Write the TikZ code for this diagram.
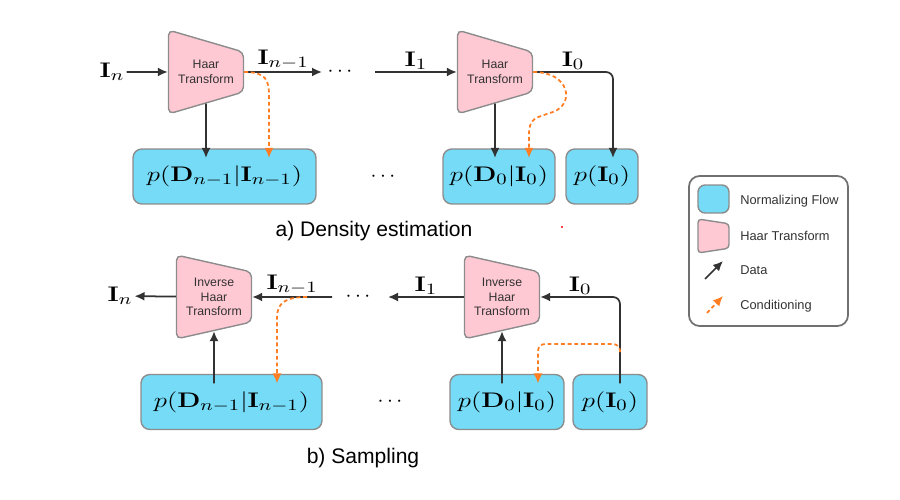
\documentclass[tikz,border=0pt]{standalone}
\usepackage[no-math]{fontspec}
\setmainfont{Liberation Sans}
\usepackage{xcolor}
\usepackage{graphicx}
\usepackage{tikz}
\usetikzlibrary{arrows.meta,positioning,shapes.geometric}
\definecolor{flowblue}{RGB}{117,219,246}
\definecolor{haarpink}{RGB}{255,201,212}
\definecolor{edgegray}{RGB}{140,140,140}
\definecolor{linedark}{RGB}{50,50,50}
\definecolor{condorange}{RGB}{255,125,35}
\newcommand{\mwide}[1]{\scalebox{1.27}[1]{$#1$}}

\begin{document}
\begin{tikzpicture}[
  x=0.02cm, y=-0.02cm,
  flow/.style={draw=edgegray, line width=0.8pt, rounded corners=5pt, fill=flowblue, minimum height=1.1cm, inner sep=0pt, font=\fontsize{13}{15}\selectfont},
  haar/.style={trapezium, shape border rotate=270, trapezium stretches=true, trapezium angle=77, draw=edgegray, line width=0.8pt, rounded corners=3pt, fill=haarpink, minimum width=1.68cm, minimum height=1.5cm, align=center, inner sep=0pt, text=linedark, font=\fontsize{7}{8.4}\selectfont},
  lbl/.style={font=\fontsize{13}{15}\selectfont, inner sep=1pt},
  arrow/.style={-{Latex[length=2mm,width=1.8mm]}, line width=1pt, draw=linedark},
  cond/.style={-{Latex[length=2mm,width=1.8mm]}, line width=1pt, draw=condorange, dash pattern=on 2.2pt off 1.6pt},
  into/.style={shorten >=-5.5pt},
  caption/.style={font=\fontsize{12}{14}\selectfont},
  legtext/.style={anchor=west, font=\fontsize{7.3}{9}\selectfont, inner sep=0pt, text=linedark}
]
\useasboundingbox (0,0) rectangle (900,500);

\node[lbl] (inA) at (112,72) {\mwide{\mathbf{I}_n}};
\node[haar] (haarA) at (206,72) {Haar\\Transform};
\coordinate (outA) at (322,72);
\node[lbl] (dotsA) at (340,72) {$\cdots$};
\coordinate (inB) at (375,72);
\node[haar] (haarB) at (495,72) {Haar\\Transform};
\coordinate (turnA) at (613,72);
\node[flow, minimum width=3.66cm] (pDA) at (224.5,176.5) {\mwide{p(\mathbf{D}_{n-1}|\mathbf{I}_{n-1})}};
\node[lbl] (dotsB) at (383,177) {$\cdots$};
\node[flow, minimum width=2.24cm] (pDB) at (499,176.5) {\mwide{p(\mathbf{D}_0|\mathbf{I}_0)}};
\node[flow, minimum width=1.44cm] (pIA) at (602,176.5) {\mwide{p(\mathbf{I}_0)}};
\node[caption] (capA) at (374,231) {a) Density estimation};

\draw[arrow] (inA) -- (haarA);
\draw[arrow] (haarA) -- node[lbl, above] {\mwide{\mathbf{I}_{n-1}}} (outA);
\draw[arrow] (inB) -- node[lbl, above] {\mwide{\mathbf{I}_1}} (haarB);
\draw[arrow, rounded corners=4pt, into] (haarB) -- node[lbl, above] {\mwide{\mathbf{I}_0}} (turnA) -- (turnA |- pIA.north);
\draw[arrow, into] (haarA) -- (haarA |- pDA.north);
\draw[arrow, into] (haarB) -- (haarB |- pDB.north);
\draw[cond, into] (haarA.east) .. controls (266,72) and (269,80) .. (269,96) -- ([xshift=0.89cm]pDA.north);
\draw[cond, into] (haarB.east) .. controls (570,72) and (575,104) .. (553,112) .. controls (535,118) and (529,118) .. (529,135) -- ([xshift=0.6cm]pDB.north);

\node[lbl] (outC) at (120,296) {\mwide{\mathbf{I}_n}};
\node[haar] (haarC) at (214,297) {Inverse\\Haar\\Transform};
\coordinate (inC) at (332,297);
\node[lbl] (dotsC) at (358,297) {$\cdots$};
\coordinate (outD) at (388,297);
\node[haar] (haarD) at (502,297) {Inverse\\Haar\\Transform};
\coordinate (turnB) at (620,297);
\node[flow, minimum width=3.62cm] (pDC) at (231.5,402) {\mwide{p(\mathbf{D}_{n-1}|\mathbf{I}_{n-1})}};
\node[lbl] (dotsD) at (390,402) {$\cdots$};
\node[flow, minimum width=2.28cm] (pDD) at (507,402) {\mwide{p(\mathbf{D}_0|\mathbf{I}_0)}};
\node[flow, minimum width=1.48cm] (pIB) at (610,402) {\mwide{p(\mathbf{I}_0)}};
\node[caption] (capB) at (363,458) {b) Sampling};

\draw[arrow] (haarC) -- (outC);
\draw[arrow] (inC) -- node[lbl, above] {\mwide{\mathbf{I}_{n-1}}} (haarC);
\draw[arrow] (haarD) -- node[lbl, above] {\mwide{\mathbf{I}_1}} (outD);
\draw[arrow, rounded corners=4pt, shorten <=-5.5pt] (turnB |- pIB.north) -- (turnB) -- node[lbl, above] {\mwide{\mathbf{I}_0}} (haarD);
\draw[arrow, shorten <=-5.5pt] (haarC |- pDC.north) -- (haarC);
\draw[arrow, shorten <=-5.5pt] (haarD |- pDD.north) -- (haarD);
\coordinate (condC) at (307,297);
\coordinate (condD) at (620,352);
\draw[cond, into] (condC) .. controls (285,297) and (277,303) .. (277,318) -- ([xshift=0.91cm]pDC.north);
\draw[cond, into, rounded corners=4pt] (condD) -- (620,344) -- (538,344) -- ([xshift=0.62cm]pDD.north);

\node[draw=edgegray!80!black, line width=1pt, rounded corners=6pt, minimum width=3.18cm, minimum height=3cm] (legend) at (768.5,251) {};
\node[flow, minimum width=0.62cm, minimum height=0.56cm, rounded corners=4pt] (keyflow) at (713.5,199) {};
\node[haar, minimum width=0.68cm, minimum height=0.62cm, trapezium angle=79, inner sep=1pt, rounded corners=2pt] (keyhaar) at (713.5,236) {};
\node[legtext] (txtflow) at (740,201) {Normalizing Flow};
\node[legtext] (txthaar) at (740,236) {Haar Transform};
\node[legtext] (txtdata) at (740,270) {Data};
\node[legtext] (txtcond) at (740,306) {Conditioning};
\coordinate (dataA) at (705,279);
\coordinate (dataB) at (723,261);
\coordinate (condA) at (707,313);
\coordinate (condB) at (723,296);
\draw[arrow] (dataA) -- (dataB);
\draw[cond] (condA) -- (condB);

\fill[red] (562,227) circle (0.7pt);
\end{tikzpicture}
\end{document}
